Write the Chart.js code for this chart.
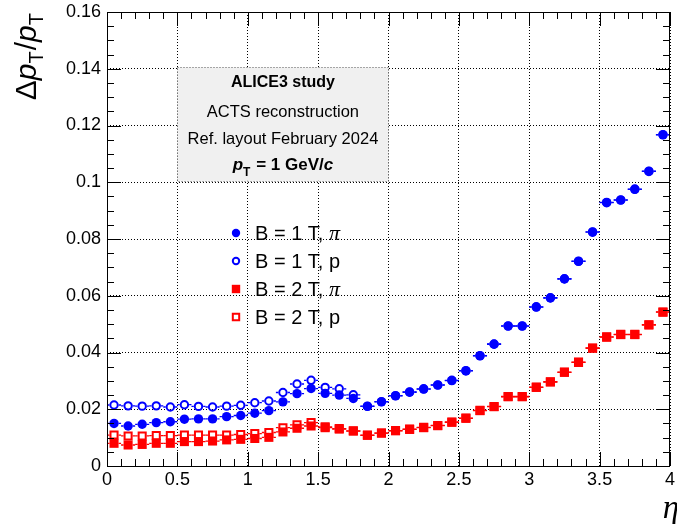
<!DOCTYPE html>
<html>
<head>
<meta charset="utf-8">
<script src="https://cdn.jsdelivr.net/npm/chart.js@4.4.1/dist/chart.umd.min.js"></script>
<style>
  html, body { margin: 0; padding: 0; background: #fff; }
</style>
</head>
<body>
<canvas id="resChart" width="677" height="524"></canvas>
<script>
'use strict';

// ***** DATA *****
const etaBins = [0.05, 0.15, 0.25, 0.35, 0.45, 0.55, 0.65, 0.75, 0.85, 0.95,
  1.05, 1.15, 1.25, 1.35, 1.45, 1.55, 1.65, 1.75, 1.85, 1.95,
  2.05, 2.15, 2.25, 2.35, 2.45, 2.55, 2.65, 2.75, 2.85, 2.95,
  3.05, 3.15, 3.25, 3.35, 3.45, 3.55, 3.65, 3.75, 3.85, 3.95];
const binHalfWidth = 0.05;

const b1Pion = [0.0150, 0.0141, 0.0147, 0.0153, 0.0156, 0.0165, 0.0166, 0.0166, 0.0174, 0.0178,
  0.0186, 0.0195, 0.0226, 0.0255, 0.0273, 0.0256, 0.0250, 0.0238, 0.0210, 0.0226,
  0.0247, 0.0260, 0.0271, 0.0285, 0.0301, 0.0335, 0.0388, 0.0429, 0.0493, 0.0493,
  0.0560, 0.0592, 0.0659, 0.0721, 0.0824, 0.0928, 0.0937, 0.0975, 0.1038, 0.1167];
const b1Proton = [0.0215, 0.0212, 0.0211, 0.0212, 0.0208, 0.0216, 0.0210, 0.0208, 0.0211, 0.0214,
  0.0223, 0.0229, 0.0259, 0.0289, 0.0302, 0.0277, 0.0272, 0.0251, 0.0211, 0.0227,
  0.0248, 0.0261, 0.0272, 0.0286, 0.0302, 0.0336, 0.0389, 0.0430, 0.0494, 0.0494,
  0.0561, 0.0593, 0.0660, 0.0722, 0.0825, 0.0929, 0.0938, 0.0976, 0.1039, 0.1168];
const b2Pion = [0.0080, 0.0074, 0.0076, 0.0080, 0.0080, 0.0086, 0.0086, 0.0088, 0.0092, 0.0094,
  0.0097, 0.0101, 0.0120, 0.0133, 0.0141, 0.0135, 0.0130, 0.0123, 0.0108, 0.0116,
  0.0124, 0.0129, 0.0135, 0.0142, 0.0154, 0.0168, 0.0195, 0.0209, 0.0244, 0.0244,
  0.0277, 0.0296, 0.0330, 0.0365, 0.0415, 0.0454, 0.0463, 0.0463, 0.0497, 0.0542];
const b2Proton = [0.0109, 0.0106, 0.0106, 0.0107, 0.0107, 0.0109, 0.0109, 0.0109, 0.0109, 0.0111,
  0.0114, 0.0118, 0.0135, 0.0145, 0.0153, 0.0138, 0.0132, 0.0124, 0.0109, 0.0116,
  0.0125, 0.0130, 0.0136, 0.0143, 0.0155, 0.0169, 0.0196, 0.0210, 0.0245, 0.0245,
  0.0278, 0.0297, 0.0331, 0.0366, 0.0416, 0.0455, 0.0464, 0.0464, 0.0498, 0.0543];

const seriesLabels = ['B = 1 T, π', 'B = 1 T, p', 'B = 2 T, π', 'B = 2 T, p'];
const xTickLabels = ['0', '0.5', '1', '1.5', '2', '2.5', '3', '3.5', '4'];
const yTickLabels = ['0', '0.02', '0.04', '0.06', '0.08', '0.1', '0.12', '0.14', '0.16'];
const boxLines = ['ALICE3 study', 'ACTS reconstruction', 'Ref. layout February 2024'];

// ***** STYLE *****
const SANS = '"Liberation Sans", Arial, Helvetica, sans-serif';
const SERIF = '"Liberation Serif", "Times New Roman", serif';
const BLUE = '#0000ff';
const RED = '#ff0000';

function toPoints(values) {
  return values.map((v, i) => ({ x: etaBins[i], y: v }));
}

// ***** HELPERS *****
function drawMarker(ctx, shape, filled, color, cx, cy, half) {
  ctx.save();
  ctx.fillStyle = color;
  ctx.strokeStyle = color;
  ctx.lineWidth = 2;
  ctx.beginPath();
  if (shape === 'circle') {
    ctx.arc(cx, cy, filled ? half : half - 1, 0, Math.PI * 2);
  } else {
    const h = filled ? half : half - 1;
    ctx.rect(cx - h, cy - h, 2 * h, 2 * h);
  }
  if (filled) ctx.fill(); else ctx.stroke();
  ctx.restore();
}

// draws a run of text pieces starting at x0
function drawPieces(ctx, pieces, x0, y0) {
  let x = x0;
  pieces.forEach(p => {
    ctx.font = p.font;
    ctx.fillText(p.text, x, y0 + (p.dy || 0));
    x += ctx.measureText(p.text).width + (p.gap || 0);
  });
}
function piecesWidth(ctx, pieces) {
  let w = 0;
  pieces.forEach(p => {
    ctx.font = p.font;
    w += ctx.measureText(p.text).width + (p.gap || 0);
  });
  return w;
}

// ***** PLUGIN: ROOT like decorations *****
const rootStyle = {
  id: 'rootStyle',
  beforeDatasetsDraw(chart) {
    const { ctx, scales: { x, y } } = chart;

    // info box
    const bx0 = x.getPixelForValue(0.5), bx1 = x.getPixelForValue(2.0);
    const by0 = y.getPixelForValue(0.1405), by1 = y.getPixelForValue(0.1005);
    ctx.save();
    ctx.fillStyle = '#f0f0f0';
    ctx.fillRect(bx0, by0, bx1 - bx0, by1 - by0);
    ctx.strokeStyle = '#555';
    ctx.lineWidth = 1;
    ctx.setLineDash([1, 2]);
    ctx.strokeRect(Math.round(bx0) + 0.5, Math.round(by0) + 0.5, Math.round(bx1 - bx0), Math.round(by1 - by0));
    ctx.setLineDash([]);

    const cx = (bx0 + bx1) / 2;
    ctx.fillStyle = '#000';
    ctx.textAlign = 'center';
    ctx.textBaseline = 'alphabetic';
    ctx.font = 'bold 16px ' + SANS;
    ctx.fillText(boxLines[0], cx, 87);
    ctx.font = '16.5px ' + SANS;
    ctx.fillText(boxLines[1], cx, 117);
    ctx.fillText(boxLines[2], cx, 144);

    ctx.textAlign = 'left';
    const ptLine = [
      { text: 'p', font: 'italic bold 17px ' + SANS },
      { text: 'T', font: 'bold 12px ' + SANS, dy: 6, gap: 1 },
      { text: ' = 1 GeV/', font: 'bold 17px ' + SANS },
      { text: 'c', font: 'italic bold 17px ' + SANS }
    ];
    drawPieces(ctx, ptLine, cx - piecesWidth(ctx, ptLine) / 2, 170);
    ctx.restore();

    // horizontal error bars (bin width)
    chart.data.datasets.forEach(ds => {
      ctx.save();
      ctx.strokeStyle = ds.borderColor;
      ctx.lineWidth = 1.3;
      ds.data.forEach(pt => {
        const px = x.getPixelForValue(pt.x);
        const py = y.getPixelForValue(pt.y);
        const l = x.getPixelForValue(pt.x - binHalfWidth);
        const r = x.getPixelForValue(pt.x + binHalfWidth);
        const m = ds.markerHalf;
        ctx.beginPath();
        ctx.moveTo(l, py); ctx.lineTo(px - m, py);
        ctx.moveTo(px + m, py); ctx.lineTo(r, py);
        ctx.stroke();
      });
      ctx.restore();
    });
  },
  afterDatasetsDraw(chart) {
    const { ctx, chartArea: a, scales: { x, y } } = chart;
    ctx.save();
    ctx.strokeStyle = '#000';
    ctx.lineWidth = 1;
    ctx.beginPath();
    // x ticks, top and bottom
    for (let k = 0; k <= 40; k++) {
      const px = Math.round(x.getPixelForValue(k / 10)) + 0.5;
      const len = k % 5 === 0 ? 14 : 7;
      ctx.moveTo(px, a.bottom); ctx.lineTo(px, a.bottom - len);
      ctx.moveTo(px, a.top); ctx.lineTo(px, a.top + len);
    }
    // y ticks, left and right
    for (let k = 0; k <= 32; k++) {
      const py = Math.round(y.getPixelForValue(k * 0.005)) + 0.5;
      const len = k % 4 === 0 ? 14 : 7;
      ctx.moveTo(a.left, py); ctx.lineTo(a.left + len, py);
      ctx.moveTo(a.right, py); ctx.lineTo(a.right - len, py);
    }
    ctx.stroke();
    ctx.strokeRect(Math.round(a.left) + 0.5, Math.round(a.top) + 0.5,
      Math.round(a.right - a.left) - 1, Math.round(a.bottom - a.top));
    ctx.restore();
  },
  afterDraw(chart) {
    const { ctx, chartArea: a } = chart;
    ctx.save();
    ctx.fillStyle = '#000';
    ctx.textBaseline = 'alphabetic';

    // legend
    const shapes = chart.data.datasets;
    seriesLabels.forEach((label, i) => {
      const ly = 233 + i * 28;
      const ds = shapes[i];
      drawMarker(ctx, ds.pointStyle, ds.filled, ds.borderColor, 236, ly, 4.2);
      ctx.fillStyle = '#000';
      ctx.textAlign = 'left';
      const parts = label.split('π');
      const pieces = [{ text: parts[0], font: '20px ' + SANS }];
      if (parts.length > 1) pieces.push({ text: 'π', font: 'italic 22px ' + SERIF });
      drawPieces(ctx, pieces, 255, ly + 7);
    });

    // y title, rotated
    ctx.save();
    ctx.translate(36, a.top + 1);
    ctx.rotate(-Math.PI / 2);
    const yTitle = [
      { text: 'Δ', font: '30px ' + SANS },
      { text: 'p', font: 'italic 30px ' + SANS },
      { text: 'T', font: '20px ' + SANS, dy: 7, gap: 1 },
      { text: '/', font: '30px ' + SANS },
      { text: 'p', font: 'italic 30px ' + SANS },
      { text: 'T', font: '20px ' + SANS, dy: 7 }
    ];
    ctx.textAlign = 'left';
    drawPieces(ctx, yTitle, -piecesWidth(ctx, yTitle), 0);
    ctx.restore();

    // x title
    ctx.textAlign = 'right';
    ctx.font = 'italic 33px ' + SERIF;
    ctx.fillText('η', 679, 518);
    ctx.restore();
  }
};

// ***** CHART *****
const datasets = [
  { label: seriesLabels[0], data: toPoints(b1Pion), pointStyle: 'circle', pointRadius: 4.7,
    backgroundColor: BLUE, borderColor: BLUE, pointBorderWidth: 0, filled: true, markerHalf: 4.7 },
  { label: seriesLabels[1], data: toPoints(b1Proton), pointStyle: 'circle', pointRadius: 3.7,
    backgroundColor: 'rgba(0,0,0,0)', borderColor: BLUE, pointBorderWidth: 2, filled: false, markerHalf: 4.7 },
  { label: seriesLabels[2], data: toPoints(b2Pion), pointStyle: 'rect', pointRadius: 6.4,
    backgroundColor: RED, borderColor: RED, pointBorderWidth: 0, filled: true, markerHalf: 4.5 },
  { label: seriesLabels[3], data: toPoints(b2Proton), pointStyle: 'rect', pointRadius: 5.0,
    backgroundColor: 'rgba(0,0,0,0)', borderColor: RED, pointBorderWidth: 2, filled: false, markerHalf: 4.5 }
];

let ctx = document.getElementById('resChart').getContext('2d');

new Chart(ctx, {
  type: 'scatter',
  data: { datasets: datasets },
  options: {
    responsive: false,
    animation: false,
    devicePixelRatio: 1,
    events: [],
    layout: { padding: { top: 12, right: 1, left: 0, bottom: 0 } },
    plugins: { legend: { display: false }, tooltip: { enabled: false } },
    elements: { point: { hoverRadius: 0 } },
    scales: {
      x: {
        type: 'linear',
        min: 0,
        max: 4,
        afterBuildTicks(s) { s.ticks = xTickLabels.map(t => ({ value: Number(t) })); },
        afterFit(s) { s.height = 58; s.paddingLeft = 0; s.paddingRight = 0; },
        ticks: {
          callback: (v, i) => xTickLabels[i],
          color: '#000',
          font: { family: SANS, size: 18 },
          padding: 3,
          maxRotation: 0,
          minRotation: 0,
          autoSkip: false
        },
        grid: { color: '#000', lineWidth: 1, drawTicks: false },
        border: { display: false, dash: [1, 2] }
      },
      y: {
        type: 'linear',
        min: 0,
        max: 0.16,
        afterBuildTicks(s) { s.ticks = yTickLabels.map(t => ({ value: Number(t) })); },
        afterFit(s) { s.width = 107; s.paddingTop = 0; s.paddingBottom = 0; },
        ticks: {
          callback: (v, i) => yTickLabels[i],
          color: '#000',
          font: { family: SANS, size: 18 },
          padding: 6,
          autoSkip: false
        },
        grid: { color: '#000', lineWidth: 1, drawTicks: false },
        border: { display: false, dash: [1, 2] }
      }
    }
  },
  plugins: [rootStyle]
});
</script>
</body>
</html>
